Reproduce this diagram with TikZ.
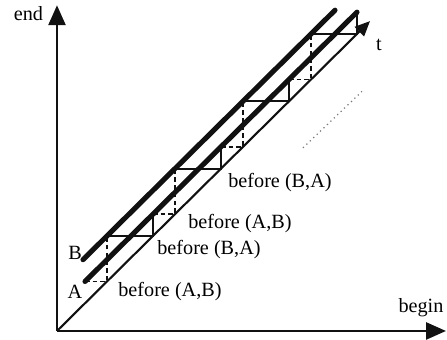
\documentclass[tikz,border=0pt]{standalone}
\usepackage{fontspec}
\setmainfont{Liberation Serif}
\usetikzlibrary{arrows.meta,calc}
\definecolor{ivink}{HTML}{111111}
\definecolor{ivgrey}{HTML}{7A7A7A}
\tikzset{
  axis/.style    ={draw=ivink, line width=1.5pt, -{Triangle[length=4mm, width=3.4mm]}},
  tline/.style   ={draw=ivink, line width=1.2pt, -{Triangle[length=3mm, width=2.6mm]}},
  ivline/.style  ={draw=ivink, line width=2.9pt, line cap=round},
  stepsol/.style ={draw=ivink, line width=1.1pt},
  stepdash/.style={stepsol, dash pattern=on 2.6pt off 1.8pt},
  trace/.style   ={draw=ivgrey, line width=0.7pt, dotted},
  lbl/.style     ={inner sep=0pt, font=\fontsize{11.5}{13}\selectfont},
  rel/.style     ={lbl, anchor=west},
}

\begin{document}
\begin{tikzpicture}[x=0.02cm, y=0.0198cm]
  \useasboundingbox (-57,-9.1) rectangle (390,334.3);

  % axes
  \coordinate (O) at (0,0);
  \coordinate (xEnd) at (389,0);
  \coordinate (yEnd) at (0,329);
  \draw[axis] (O) -- (xEnd);
  \draw[axis] (O) -- (yEnd);
  \node[lbl] (lEnd) at (-28.5,321) {end};
  \node[lbl] (lBegin) at (364,24) {begin};

  % time line and the two intervals
  \coordinate (tEnd) at (313,313);
  \draw[tline] (O) -- (tEnd);
  \node[lbl] (lT) at (322,289) {t};

  \coordinate (aStart) at (28,50);
  \coordinate (aEnd) at (300,322);
  \coordinate (bStart) at (26,72);
  \coordinate (bEnd) at (278,324);
  \draw[ivline] (aStart) -- (aEnd);
  \draw[ivline] (bStart) -- (bEnd);
  \node[lbl] (lA) at (18,39.4) {A};
  \node[lbl] (lB) at (18,78.8) {B};

  % staircase: dashed A->B, solid B->A
  \foreach \k in {0,...,3} {
    \pgfmathsetmacro\xo{28+68*\k}
    \coordinate (p0) at (\xo,\xo+22);
    \coordinate (p1) at (\xo+22,\xo+22);
    \coordinate (p2) at (\xo+22,\xo+68);
    \coordinate (p3) at (\xo+68,\xo+68);
    \coordinate (p4) at (\xo+68,\xo+90);
    \draw[stepdash] (p0) -- (p1) -- (p2);
    \draw[stepsol] (p2) -- (p3) -- (p4);
  }

  \node[rel] (r1) at (61,39.4) {before (A,B)};
  \node[rel] (r2) at (100,81.8) {before (B,A)};
  \node[rel] (r3) at (131,109) {before (A,B)};
  \node[rel] (r4) at (171,149.5) {before (B,A)};

  % faint trace
  \coordinate (gA) at (246,185);
  \coordinate (gB) at (305,242);
  \draw[trace] (gA) -- (gB);

\end{tikzpicture}
\end{document}
